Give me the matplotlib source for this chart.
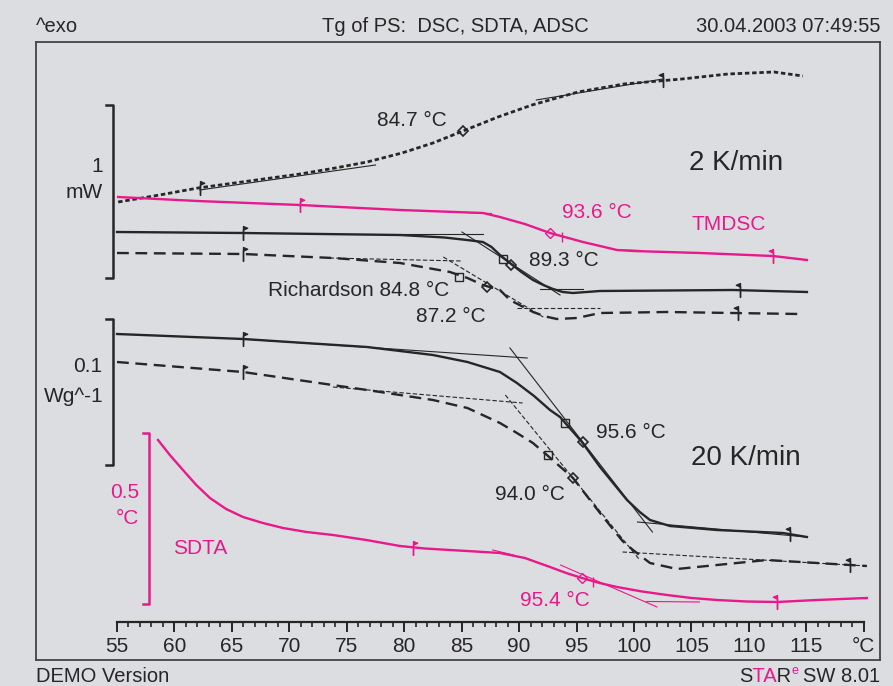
import numpy as np
import matplotlib
matplotlib.use("Agg")
import matplotlib.pyplot as plt
from matplotlib.path import Path
from matplotlib.transforms import Bbox
from matplotlib.ft2font import FT2Font
from matplotlib import font_manager

plt.rcParams['font.family'] = ['Liberation Sans', 'DejaVu Sans']

# ---------------- data (temperature in °C, signal in shifted display units, exo up) ----------------
adsc_T = [55.1, 58.7, 62.05, 66.5, 70.93, 74.0, 76.76, 79.8, 82.5, 85.11, 88.16, 91.12, 95.12, 99.13, 104.17, 108.18, 112.18, 114.7]
adsc_y = [45.8, 46.5, 47.2, 47.9, 48.6, 49.2, 49.8, 50.7, 51.7, 52.9, 54.3, 55.5, 56.8, 57.6, 58.1, 58.6, 58.8, 58.4]

tmdsc_T = [55.1, 62.0, 70.93, 79.63, 86.85, 88.33, 90.5, 92.69, 95.56, 98.52, 99.91, 105.74, 112.09, 115.05]
tmdsc_y = [46.3, 45.9, 45.5, 45.0, 44.7, 44.3, 43.6, 42.7, 41.8, 41.0, 40.9, 40.7, 40.4, 40.0]

dsc2_T = [55.0, 65.97, 79.63, 83.5, 85.46, 86.85, 87.6, 88.33, 89.2, 90.2, 91.21, 92.1, 92.95, 93.8, 94.69, 97.04, 108.61, 115.05]
dsc2_y = [42.8, 42.7, 42.5, 42.25, 42.0, 41.8, 41.3, 40.5, 39.7, 38.8, 38.0, 37.5, 37.1, 36.8, 36.7, 36.9, 37.0, 36.8]

adsc2_T = [55.0, 65.97, 73.8, 79.63, 83.98, 85.5, 86.85, 88.33, 89.2, 90.2, 91.21, 92.3, 93.29, 95.03, 97.04, 102.87, 108.61, 114.44]
adsc2_y = [40.7, 40.6, 40.2, 39.7, 38.8, 38.2, 37.5, 37.0, 36.0, 35.4, 34.8, 34.35, 34.1, 34.2, 34.7, 34.8, 34.7, 34.6]

dsc20_T = [55.0, 65.97, 76.76, 82.5, 85.5, 88.33, 89.81, 91.3, 92.69, 93.56, 95.47, 97.04, 99.39, 100.5, 101.39, 103.13, 107.22, 112.96, 115.05]
dsc20_y = [32.6, 32.1, 31.3, 30.5, 29.8, 28.8, 27.7, 26.4, 25.0, 24.3, 21.8, 19.3, 16.0, 14.8, 14.0, 13.4, 13.0, 12.7, 12.3]

dsc20d_T = [55.0, 65.97, 76.76, 82.5, 85.5, 88.33, 89.81, 91.2, 92.42, 94.69, 97.04, 99.0, 99.91, 101.39, 103.74, 107.22, 111.57, 115.92, 120.27]
dsc20d_y = [29.8, 28.8, 27.0, 26.0, 25.2, 23.7, 22.7, 21.7, 20.5, 18.2, 14.7, 11.9, 11.0, 9.7, 9.1, 9.5, 10.0, 9.7, 9.4]

sdta_T = [58.57, 59.6, 60.74, 61.9, 63.09, 64.5, 65.97, 67.7, 69.45, 71.5, 73.8, 76.7, 79.63, 81.8, 83.98, 86.2, 88.33, 90.5, 92.69, 94.1, 95.47, 97.0, 98.52, 100.7, 102.87, 105.0, 107.22, 109.8, 112.44, 115.92, 120.27]
sdta_y = [22.0, 20.5, 19.0, 17.5, 16.2, 15.1, 14.3, 13.7, 13.2, 12.8, 12.5, 12.0, 11.4, 11.15, 11.0, 10.85, 10.7, 10.2, 9.3, 8.7, 8.2, 7.7, 7.3, 6.85, 6.5, 6.2, 6.0, 5.85, 5.8, 6.0, 6.2]

# evaluation limits (flags)
flags_left = [(62.2, 47.2), (70.93, 45.5), (65.97, 42.7), (65.97, 40.6), (65.97, 32.1), (65.97, 28.8), (80.8, 11.25)]
flags_left_col = ['k', 'pink', 'k', 'k', 'k', 'k', 'pink']
flags_right = [(102.5, 58.0), (112.09, 40.4), (109.22, 37.0), (109.05, 34.7), (113.57, 12.6), (118.79, 9.5), (112.44, 5.8)]
flags_right_col = ['k', 'pink', 'k', 'k', 'k', 'k', 'pink']

squares = [(88.59, 40.1), (84.77, 38.3), (93.99, 23.7), (92.51, 20.5)]
diamonds = [(85.11, 52.9), (89.29, 39.5), (87.2, 37.3), (95.56, 21.8), (94.69, 18.2)]
pink_marks = [(92.69, 42.7), (95.47, 8.2)]

# tangents: (T0, y0, T1, y1, style, colour)
tangents = [
    (62.2, 47.0, 77.5, 49.5, '-', 'k'),
    (91.5, 56.0, 102.5, 58.1, '-', 'k'),
    (85.3, 44.75, 87.6, 44.65, '-', 'pink'),
    (98.3, 41.05, 100.6, 40.95, '-', 'pink'),
    (79.63, 42.6, 86.85, 42.6, '-', 'k'),
    (85.02, 42.8, 93.56, 36.5, '-', 'k'),
    (91.8, 37.1, 95.56, 37.1, '-', 'k'),
    (73.5, 40.2, 85.0, 39.9, '--', 'k'),
    (83.4, 40.3, 92.1, 34.3, '--', 'k'),
    (89.8, 35.2, 97.0, 35.2, '--', 'k'),
    (66.0, 32.1, 90.7, 30.2, '-', 'k'),
    (89.2, 31.2, 101.6, 12.8, '-', 'k'),
    (100.3, 13.8, 115.05, 12.3, '-', 'k'),
    (73.8, 27.3, 90.3, 25.7, '--', 'k'),
    (88.8, 26.5, 100.5, 10.0, '--', 'k'),
    (99.0, 10.8, 120.3, 9.4, '--', 'k'),
    (87.7, 11.0, 89.5, 10.5, '-', 'pink'),
    (93.6, 9.5, 102.0, 5.3, '-', 'pink'),
    (101.1, 5.85, 105.7, 5.8, '-', 'pink'),
]

labels = [
    (80.67, 53.9, '84.7 °C', 'k', 15),
    (108.87, 49.7, '2 K/min', 'k', 20),
    (96.78, 44.7, '93.6 °C', 'pink', 15),
    (108.2, 43.5, 'TMDSC', 'pink', 15),
    (93.86, 40.0, '89.3 °C', 'k', 15),
    (76.06, 37.0, 'Richardson 84.8 °C', 'k', 15),
    (84.07, 34.3, '87.2 °C', 'k', 15),
    (99.73, 22.7, '95.6 °C', 'k', 15),
    (109.74, 20.2, '20 K/min', 'k', 20),
    (90.94, 16.5, '94.0 °C', 'k', 15),
    (93.12, 6.0, '95.4 °C', 'pink', 15),
]

tick_values = list(range(55, 121, 5))
tick_labels = ['55', '60', '65', '70', '75', '80', '85', '90', '95', '100', '105', '110', '115', '°C']

# ---------------- style ----------------
BG = '#dcdde0'
INK = '#262626'
PINK = '#e8198b'
col = lambda c: PINK if c == 'pink' else INK

W, H = 893, 686
fig = plt.figure(figsize=(W / 100, H / 100), dpi=100, facecolor=BG)
ax = fig.add_axes([36 / W, 1 - 660 / H, (880 - 36) / W, (660 - 42) / H], facecolor=BG)
ax.set_xlim(47.95, 121.41)
ax.set_ylim(0, 61.8)
ax.set_xticks([]); ax.set_yticks([])
for s in ax.spines.values():
    s.set_color('#444444'); s.set_linewidth(1.3)

lw = 1.7
ax.plot(adsc_T, adsc_y, color=INK, lw=2.0, linestyle=(0, (1.6, 1.0)))
ax.plot(tmdsc_T, tmdsc_y, color=PINK, lw=lw)
ax.plot(dsc2_T, dsc2_y, color=INK, lw=lw)
ax.plot(adsc2_T, adsc2_y, color=INK, lw=lw, linestyle=(0, (5, 2.8)))
ax.plot(dsc20_T, dsc20_y, color=INK, lw=lw)
ax.plot(dsc20d_T, dsc20d_y, color=INK, lw=lw, linestyle=(0, (5, 2.8)))
ax.plot(sdta_T, sdta_y, color=PINK, lw=lw)

for T0, y0, T1, y1, ls, c in tangents:
    ax.plot([T0, T1], [y0, y1], color=col(c), lw=0.8, linestyle=(0, (4, 2)) if ls == '--' else '-')

# flag markers
fr = Path([(0, -1), (0, 1), (0.6, 0.75), (0, 0.5), (0, -1)],
          [Path.MOVETO, Path.LINETO, Path.LINETO, Path.LINETO, Path.CLOSEPOLY])
fl = Path([(0, -1), (0, 1), (-0.6, 0.75), (0, 0.5), (0, -1)],
          [Path.MOVETO, Path.LINETO, Path.LINETO, Path.LINETO, Path.CLOSEPOLY])
for (T, y), c in zip(flags_left, flags_left_col):
    ax.plot([T], [y], marker=fr, ms=10, color=col(c), mew=1.0)
for (T, y), c in zip(flags_right, flags_right_col):
    ax.plot([T], [y], marker=fl, ms=10, color=col(c), mew=1.0)
for T, y in squares:
    ax.plot([T], [y], marker='s', ms=5.5, mfc='none', mec=INK, mew=1.0)
for T, y in diamonds:
    ax.plot([T], [y], marker='D', ms=5, mfc='none', mec=INK, mew=1.2)
for T, y in pink_marks:
    ax.plot([T], [y], marker='D', ms=5, mfc='none', mec=PINK, mew=1.0)
    ax.plot([T + 1.0], [y - 0.4], marker='|', ms=7, color=PINK, mew=1.0)

for T, y, s, c, fs in labels:
    ax.text(T, y, s, color=col(c), fontsize=fs, ha='center', va='center')

# temperature axis
axis_y = 3.8
ax.plot([55, 120], [axis_y, axis_y], color=INK, lw=1.6)
ax.vlines(np.arange(55, 121, 1), axis_y - 0.5, axis_y, color=INK, lw=1.2)
ax.vlines(tick_values, axis_y - 0.95, axis_y, color=INK, lw=1.4)
for v, s in zip(tick_values, tick_labels):
    ax.text(v, 1.35, s, ha='center', va='center', fontsize=15, color=INK)

# scale bars
def bracket(x, y0, y1, xl, c):
    ax.plot([xl, x, x, xl], [y1, y1, y0, y0], color=c, lw=1.8)

bracket(54.65, 38.2, 55.5, 54.04, INK)
ax.text(53.75, 49.4, '1', ha='right', va='center', fontsize=15, color=INK)
ax.text(53.75, 46.7, 'mW', ha='right', va='center', fontsize=15, color=INK)
bracket(54.65, 19.5, 34.1, 54.04, INK)
ax.text(53.75, 29.3, '0.1', ha='right', va='center', fontsize=15, color=INK)
ax.text(53.8, 26.3, 'Wg^-1', ha='right', va='center', fontsize=15, color=INK)
bracket(57.79, 5.6, 22.7, 57.26, PINK)
ax.text(56.95, 16.7, '0.5', ha='right', va='center', fontsize=15, color=PINK)
ax.text(56.95, 14.2, '°C', ha='right', va='center', fontsize=15, color=PINK)
ax.text(59.9, 11.2, 'SDTA', ha='left', va='center', fontsize=15, color=PINK)

# header / footer
FS = 14.5
fig.text(36 / W, 1 - 27 / H, '^exo', ha='left', va='center', fontsize=FS, color=INK)
fig.text(455 / W, 1 - 27 / H, 'Tg of PS:  DSC, SDTA, ADSC', ha='center', va='center', fontsize=FS, color=INK)
fig.text(880 / W, 1 - 27 / H, '30.04.2003 07:49:55', ha='right', va='center', fontsize=FS, color=INK)
fig.text(36 / W, 1 - 676 / H, 'DEMO Version', ha='left', va='center', fontsize=FS, color=INK)

# footer "STAR^e SW 8.01" (S, R black; TA and superscript e pink)
fig.canvas.draw()
r = fig.canvas.get_renderer()
yb = 1 - 676 / H
tail = fig.text(880 / W, yb, 'SW 8.01', ha='right', va='center', fontsize=FS, color=INK)
x_tail = tail.get_window_extent(renderer=r).x0
sup = fig.text((x_tail - 4) / W, yb + 0.007, 'e', ha='right', va='center', fontsize=9, color=PINK)
x_sup = sup.get_window_extent(renderer=r).x0
star_k = fig.text((x_sup - 0.5) / W, yb, 'STAR', ha='right', va='center', fontsize=FS, color=INK)
bb = star_k.get_window_extent(renderer=r)

ft = FT2Font(font_manager.findfont(font_manager.FontProperties(family='Liberation Sans')))
ft.set_size(FS, 100)
def adv(ch):
    return ft.load_char(ord(ch)).linearHoriAdvance / 65536.0
lsb_S = ft.load_char(ord('S')).horiBearingX / 64.0
origin = bb.x0 - lsb_S
b1 = origin + adv('S')
b2 = origin + adv('S') + adv('T') + adv('A') - 0.5
star_k.set_clip_box(Bbox.from_extents(0, 0, b1, H))
star_k.set_clip_on(True)
star_k2 = fig.text((x_sup - 0.5) / W, yb, 'STAR', ha='right', va='center', fontsize=FS, color=INK)
star_k2.set_clip_box(Bbox.from_extents(b2, 0, W, H))
star_k2.set_clip_on(True)
star_p = fig.text((x_sup - 0.5) / W, yb, 'STAR', ha='right', va='center', fontsize=FS, color=PINK)
star_p.set_clip_box(Bbox.from_extents(b1, 0, b2, H))
star_p.set_clip_on(True)

fig.savefig('out.png', dpi=100, facecolor=BG)
